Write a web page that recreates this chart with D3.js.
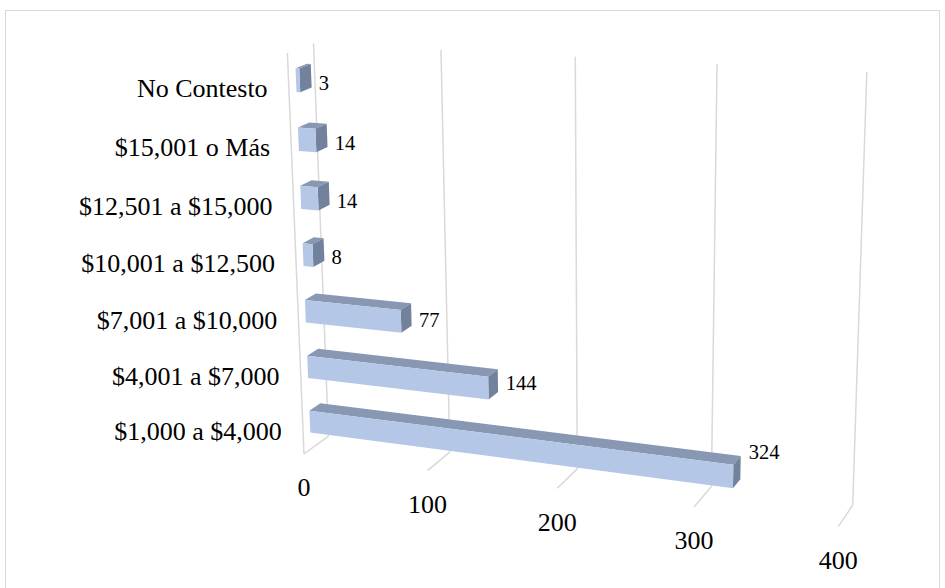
<!DOCTYPE html>
<html>
<head>
<meta charset="utf-8">
<script src="https://cdn.jsdelivr.net/npm/d3@7"></script>
<style>
  body { margin: 0; background: #fff; }
  text { font-family: "Liberation Serif", "Times New Roman", serif; fill: #000; }
</style>
</head>
<body>
<script>
// chart data
var categories = ["$1,000 a $4,000", "$4,001 a $7,000", "$7,001 a $10,000", "$10,001 a $12,500",
                  "$12,501 a $15,000", "$15,001 o Más", "No Contesto"];
var values = [324, 144, 77, 8, 14, 14, 3];
var valueTicks = [0, 100, 200, 300, 400];

var width = 945, height = 588;

// screen position of the plot box edges (value/100, height 0..1, depth 0 back..1 front)
// used only to fit the 3d perspective camera
var boxAnchors = [
  [0, 1, 0, 313, 44], [1, 1, 0, 441, 50], [2, 1, 0, 575, 57], [3, 1, 0, 717, 64], [4, 1, 0, 867, 72],
  [0, 0, 0, 328, 437], [1, 0, 0, 450, 452], [3, 0, 0, 712, 483], [4, 0, 0, 853, 507],
  [0, 0, 1, 304, 453], [1, 0, 1, 428, 472], [3, 0, 1, 693, 507], [4, 0, 1, 838, 527],
  [0, 1, 1, 288, 52]
];

// fit a 3x4 projection matrix (DLT, least squares)
var cx = 580, cy = 290, sc = 300;
function fitCamera(pts) {
  var n = 11, M = [];
  for (var i = 0; i < n; i++) { M.push(new Array(n + 1).fill(0)); }
  pts.forEach(function(p) {
    var X = p[0], Y = p[1], Z = p[2];
    var s = (p[3] - cx) / sc, t = (p[4] - cy) / sc;
    var rows = [[X, Y, Z, 1, 0, 0, 0, 0, -s * X, -s * Y, -s * Z, s],
                [0, 0, 0, 0, X, Y, Z, 1, -t * X, -t * Y, -t * Z, t]];
    rows.forEach(function(r) {
      for (var a = 0; a < n; a++)
        for (var b = 0; b <= n; b++) M[a][b] += r[a] * r[b];
    });
  });
  for (var c = 0; c < n; c++) {
    var piv = c;
    for (var r = c + 1; r < n; r++) if (Math.abs(M[r][c]) > Math.abs(M[piv][c])) piv = r;
    var tmp = M[c]; M[c] = M[piv]; M[piv] = tmp;
    for (var r = 0; r < n; r++) {
      if (r == c) continue;
      var f = M[r][c] / M[c][c];
      for (var k = c; k <= n; k++) M[r][k] -= f * M[c][k];
    }
  }
  return M.map(function(row, i) { return row[n] / row[i]; });
}
var P = fitCamera(boxAnchors);

function project(X, Y, Z) {
  var w = P[8] * X + P[9] * Y + P[10] * Z + 1;
  var s = (P[0] * X + P[1] * Y + P[2] * Z + P[3]) / w;
  var t = (P[4] * X + P[5] * Y + P[6] * Z + P[7]) / w;
  return [s * sc + cx, t * sc + cy];
}

// scales into the 3d box
var x = d3.scaleLinear().domain([0, 400]).range([0, 4]);
var y = d3.scaleBand().domain(categories).range([0, 1]).paddingInner(0.6).paddingOuter(0.3);
var zBack = 0.28, zFront = 0.72;

var svg = d3.select("body").append("svg")
    .attr("width", width)
    .attr("height", height);

svg.append("rect")
    .attr("x", 5.5).attr("y", 10.5)
    .attr("width", 934).attr("height", 600)
    .attr("fill", "#fff")
    .attr("stroke", "#d9d9d9");

var poly = d3.line().curve(d3.curveLinearClosed);
var seg = d3.line();

// gridlines: back wall and floor
var grid = svg.append("g")
    .attr("stroke", "#d9d9d9")
    .attr("stroke-width", 1.5)
    .attr("fill", "none");

valueTicks.forEach(function(v) {
  grid.append("path").attr("d", seg([project(x(v), 1, 0), project(x(v), 0, 0)]));
  grid.append("path").attr("d", seg([project(x(v), 0, 0), project(x(v), 0, 1)]));
});
// side wall front edge
grid.append("path").attr("d", seg([project(0, 0, 1), project(0, 1, 1)]));

// bars
var bars = svg.append("g");
categories.forEach(function(c, i) {
  var X1 = x(values[i]);
  var Y0 = y(c), Y1 = y(c) + y.bandwidth();
  var g = bars.append("g");
  g.append("path")
      .attr("d", poly([project(0, Y1, zBack), project(X1, Y1, zBack), project(X1, Y1, zFront), project(0, Y1, zFront)]))
      .attr("fill", "#8898b3");
  g.append("path")
      .attr("d", poly([project(X1, Y0, zBack), project(X1, Y1, zBack), project(X1, Y1, zFront), project(X1, Y0, zFront)]))
      .attr("fill", "#72829c");
  g.append("path")
      .attr("d", poly([project(0, Y0, zFront), project(X1, Y0, zFront), project(X1, Y1, zFront), project(0, Y1, zFront)]))
      .attr("fill", "#b4c7e7");

  // data label, right of the bar end (lifted a bit more for long bars)
  var edge = project(X1, Y1, zBack);
  var mid = project(X1, (Y0 + Y1) / 2, (zBack + zFront) / 2);
  svg.append("text")
      .attr("x", edge[0] + 8)
      .attr("y", mid[1] + 5 - 2 * X1 - 1.8 * X1 * X1)
      .attr("dominant-baseline", "central")
      .style("font-size", "20.5px")
      .text(values[i]);
});

// category labels
categories.forEach(function(c) {
  var p = project(0, y(c) + y.bandwidth() / 2, 1);
  svg.append("text")
      .attr("x", p[0] - 21)
      .attr("y", p[1] + 5)
      .attr("text-anchor", "end")
      .attr("dominant-baseline", "central")
      .style("font-size", "26px")
      .text(c);
});

// value tick labels
valueTicks.forEach(function(v) {
  var p = project(x(v), 0, 1);
  svg.append("text")
      .attr("x", p[0])
      .attr("y", p[1] + 34)
      .attr("text-anchor", "middle")
      .attr("dominant-baseline", "central")
      .style("font-size", "26px")
      .text(v);
});
</script>
</body>
</html>
